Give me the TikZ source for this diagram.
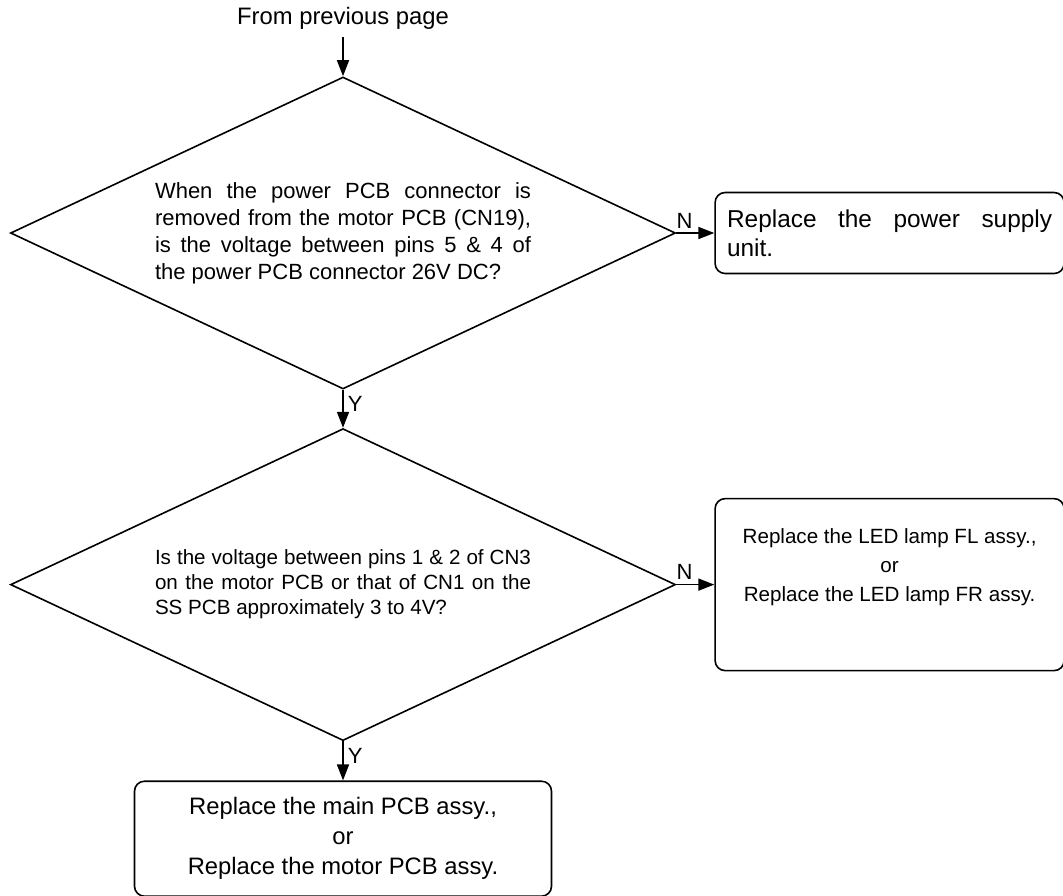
\documentclass[tikz,border=0pt]{standalone}
\usepackage{fontspec}
\setmainfont{Liberation Sans}
\usetikzlibrary{arrows.meta,positioning,shapes.geometric}

\begin{document}
\begin{tikzpicture}[x=0.5pt,y=-0.5pt,line width=0.8pt,>={Triangle[length=8pt,width=6pt]},
q/.style={draw,diamond,aspect=2.13,inner sep=0pt,minimum width=332.5pt,minimum height=156pt,text width=188pt,align=justify},
r/.style={draw,rounded corners=5pt,minimum width=174.5pt},
flow/.style={->},
lbl/.style={font=\fontsize{11}{13}\selectfont,inner sep=2pt}]
\useasboundingbox (0,0) rectangle (1063,895);
\node[q,font=\fontsize{11}{13.5}\selectfont] (volt26) at (343,233) {When the power PCB connector is\linebreak removed from the motor PCB (CN19),\linebreak is the voltage between pins 5 \& 4 of\linebreak the power PCB connector 26V DC?};
\node[font=\fontsize{11.9}{14}\selectfont,above=19.5pt of volt26] (prev) {From previous page};
\node[r,right=19pt of volt26,minimum height=40.5pt,text width=162.5pt,inner xsep=6pt,align=justify,font=\fontsize{12.2}{14.5}\selectfont] (psu) {Replace the power supply\linebreak unit.};
\node[q,below=19pt of volt26,font=\fontsize{10.3}{12.5}\selectfont] (volt3) {Is the voltage between pins 1 \& 2 of CN3\linebreak on the motor PCB or that of CN1 on the\linebreak SS PCB approximately 3 to 4V?};
\node[r,right=19pt of volt3,minimum height=86pt,align=center,font=\fontsize{10.3}{14.5}\selectfont] (led) {Replace the LED lamp FL assy.,\\or\\Replace the LED lamp FR assy.\\[5pt]};
\node[r,below=19.5pt of volt3,minimum width=208.5pt,minimum height=57.5pt,align=center,font=\fontsize{11.9}{15}\selectfont] (mainpcb) {Replace the main PCB assy.,\\or\\Replace the motor PCB assy.};
\draw[flow] (prev)--(volt26);
\draw[flow] (volt26)--node[lbl,above,pos=0.22]{N}(psu);
\draw[flow] (volt26)--node[lbl,right,pos=0.38]{Y}(volt3);
\draw[flow] (volt3)--node[lbl,above,pos=0.22]{N}(led);
\draw[flow] (volt3)--node[lbl,right,pos=0.38]{Y}(mainpcb);
\end{tikzpicture}
\end{document}
